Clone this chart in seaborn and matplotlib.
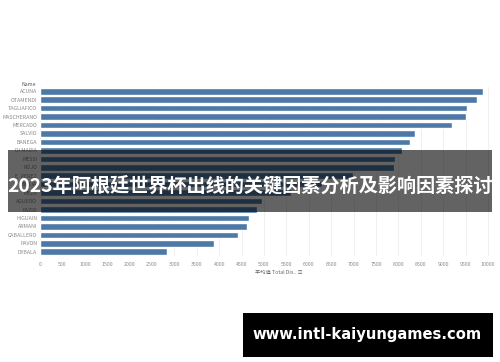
import numpy as np
import pandas as pd
import matplotlib
matplotlib.use("Agg")
import matplotlib.pyplot as plt
import seaborn as sns
from matplotlib.patches import Rectangle

# player names and average total distance
names = ["ACUNA", "OTAMENDI", "TAGLIAFICO", "MASCHERANO", "MERCADO", "SALVIO",
         "BANEGA", "DI MARIA", "MESSI", "ROJO", "E. PEREZ", "BIGLIA", "MEZA",
         "AGUERO", "FAZIO", "HIGUAIN", "ARMANI", "CABALLERO", "PAVON", "DYBALA"]
total_dis = [9880, 9755, 9540, 9510, 9205, 8380, 8265, 8070, 7925, 7900,
             6990, 6300, 5600, 4960, 4840, 4675, 4610, 4430, 3885, 2840]
ticks = list(range(0, 10001, 500))

df = pd.DataFrame({"Name": names, "Total Dis": total_dis})

sns.set_style("white")
plt.rcParams['font.family'] = ['Noto Sans CJK SC', 'DejaVu Sans']

fig = plt.figure(figsize=(5, 3.62), dpi=100)
ax = fig.add_axes([40/500, 1 - 256/362, 453/500, (256 - 87)/362])

sns.barplot(data=df, x="Total Dis", y="Name", color="#4e79a7", saturation=1,
            width=0.78, orient="h", ax=ax)

ax.set_xlim(0, 10110)
ax.set_xticks(ticks)
ax.set_xticklabels([str(t) for t in ticks], fontsize=3.8, color="#8a8a8a")
ax.tick_params(axis="y", labelsize=3.8, labelcolor="#8a8a8a", length=0, pad=2)
ax.tick_params(axis="x", length=0, pad=4)
ax.grid(axis="x", color="#ececec", linewidth=0.6)
ax.set_axisbelow(True)
for s in ax.spines.values():
    s.set_visible(False)
ax.set_ylabel("")
ax.set_xlabel("")

# header and axis caption
fig.text(22/500, 1 - 84/362, "Name", fontsize=3.8, color="#555555",
         ha="left", va="center")
fig.text(255/500, 1 - 272/362, "平均值 Total Dis.. ≡", fontsize=3.8,
         color="#666666", ha="left", va="center")

# dark banner with title
fig.patches.append(Rectangle((8/500, 1 - 212/362), 484/500, 62/362,
                             transform=fig.transFigure, facecolor="black",
                             alpha=0.61, edgecolor="none", zorder=5))
fig.text(250/500, 1 - 186/362, "2023年阿根廷世界杯出线的关键因素分析及影响因素探讨",
         fontsize=13.8, fontweight="bold", color="white", ha="center",
         va="center", zorder=6)

# watermark box
fig.patches.append(Rectangle((243/500, 1 - 357/362), 250/500, 44/362,
                             transform=fig.transFigure, facecolor="black",
                             edgecolor="none", zorder=5))
fig.text(367/500, 1 - 335/362, "www.intl-kaiyungames.com", fontsize=10.6,
         fontweight="bold", color="white", ha="center", va="center",
         family="DejaVu Sans", zorder=6)

fig.savefig("out.png", dpi=100)
